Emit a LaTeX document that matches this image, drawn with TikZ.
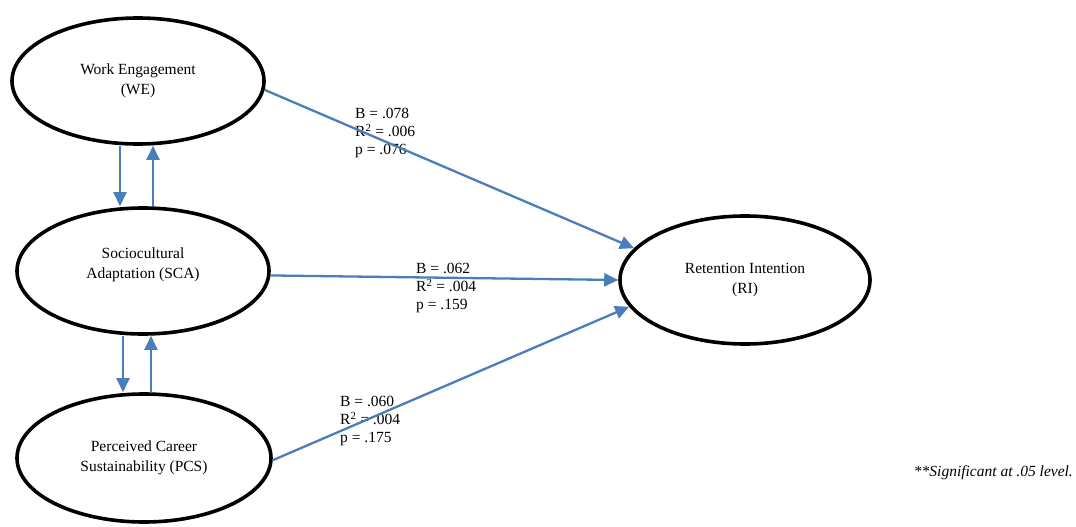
\documentclass[tikz,border=0pt]{standalone}
\usepackage{fontspec}
\setmainfont{Liberation Serif}
\usetikzlibrary{shapes.geometric,arrows.meta}
\definecolor{pathblue}{HTML}{4A7EBB}
\begin{document}
\begin{tikzpicture}[x=1pt,y=-1pt,
  construct/.style={ellipse,draw=black,line width=3.6pt,minimum width=252pt,minimum height=126pt,inner sep=0pt,align=center,font=\fontsize{15.5}{20}\selectfont},
  link/.style={draw=pathblue,line width=2.3pt,-{Triangle[length=14pt,width=13pt]}},
  stat/.style={anchor=west,align=left,inner sep=0pt,font=\fontsize{15.5}{18}\selectfont}]
\useasboundingbox (0,0) rectangle (1076,527);
% constructs
\node[construct] (we) at (138,81) {Work Engagement\\(WE)};
\node[construct] (sca) at (143,271) {};
\node[align=center,inner sep=0pt,font=\fontsize{15.5}{20}\selectfont] (scaText) at (143,265) {Sociocultural\\Adaptation (SCA)};
\node[construct,minimum width=254pt,minimum height=128pt] (pcs) at (144,458) {Perceived Career\\Sustainability (PCS)};
\node[construct,minimum width=250pt,minimum height=128pt] (ri) at (745,280) {Retention Intention\\(RI)};
% path statistics
\node[stat] (weStat) at (355,133) {B = .078\\R\textsuperscript{2} = .006\\p = .076};
\node[stat] (scaStat) at (416,288) {B = .062\\R\textsuperscript{2} = .004\\p = .159};
\node[stat] (pcsStat) at (340,421) {B = .060\\R\textsuperscript{2} = .004\\p = .175};
\node[anchor=east,inner sep=0pt,font=\fontsize{15.5}{18}\selectfont\itshape] (note) at (1073,473) {**Significant at .05 level.};
% paths to retention
\draw[link] (we.-4) -- (ri.164);
\draw[link] (sca.-2) -- (ri.180);
\draw[link] (pcs.-1) -- (ri.193);
% reciprocal links
\draw[link] ([xshift=-18pt]we.south) -- ([xshift=-23pt]sca.north);
\draw[link] ([xshift=10pt]sca.north) -- ([xshift=15pt]we.south);
\draw[link] ([xshift=-20pt]sca.south) -- ([xshift=-21pt]pcs.north);
\draw[link] ([xshift=7pt]pcs.north) -- ([xshift=8pt]sca.south);
\end{tikzpicture}
\end{document}
